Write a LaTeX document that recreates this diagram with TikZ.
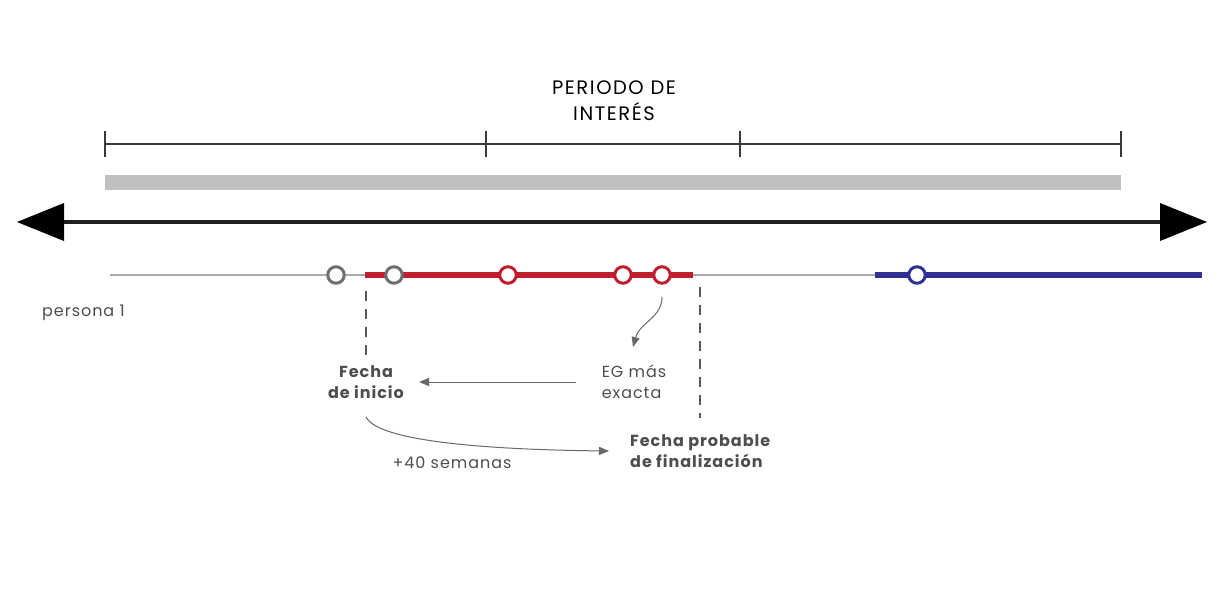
\documentclass[tikz,border=0pt]{standalone}
\usepackage{fontspec}
\setmainfont{Poppins}
\usetikzlibrary{arrows.meta}
\definecolor{txt}{HTML}{4D4D4F}
\definecolor{tick}{HTML}{3A3A3C}
\definecolor{barg}{HTML}{BEBFC1}
\definecolor{lineg}{HTML}{A7A9AC}
\definecolor{circg}{HTML}{6D6E71}
\definecolor{redl}{HTML}{BE1E2D}
\definecolor{bluel}{HTML}{2E3192}
\definecolor{dashg}{HTML}{58595B}
\tikzset{
  lbl/.style={text=txt, font=\fontsize{16}{21.5}\selectfont\addfontfeature{LetterSpace=6}, inner sep=0pt, align=center},
  blbl/.style={lbl, font=\fontsize{16}{21.5}\selectfont\bfseries\addfontfeature{LetterSpace=6}},
  dot/.style={circle, draw=#1, line width=3pt, fill=white, minimum size=16.5pt, inner sep=0pt},
  dashln/.style={dashg, line width=1.8pt, dash pattern=on 10pt off 8pt},
  conn/.style={txt!85, line width=1pt, -{Triangle[length=10pt,width=8pt]}},
}
\begin{document}
\begin{tikzpicture}[x=1pt,y=-1pt]
\useasboundingbox (0,0) rectangle (1227,591);
% title
\node[lbl, text=black, font=\fontsize{19.5}{26}\selectfont\addfontfeature{LetterSpace=8}] (title) at (614,101) {PERIODO DE\\INTERÉS};
% bracket
\coordinate (b0) at (105,144);
\coordinate (b1) at (486,144);
\coordinate (b2) at (740,144);
\coordinate (b3) at (1121,144);
\draw[tick, line width=1.6pt] (b0) -- (b3);
\foreach \c in {b0,b1,b2,b3} \draw[tick, line width=1.6pt] ([yshift=-13pt]\c) -- ([yshift=13pt]\c);
% grey bar
\fill[barg] (105,175.5) rectangle (1121,190.5);
% black double arrow
\coordinate (al) at (17,222);
\coordinate (ar) at (1207,222);
\draw[black!88, line width=4.5pt] (60,222) -- (1165,222);
\fill[black] (al) -- (64,203) -- (64,241) -- cycle;
\fill[black] (ar) -- (1160,203) -- (1160,241) -- cycle;
% person line
\draw[lineg, line width=2.5pt] (110,275) -- (365,275);
\draw[lineg, line width=2.5pt] (693,275) -- (875,275);
\draw[redl, line width=6.5pt] (365,275) -- (693,275);
\draw[bluel, line width=6.5pt] (875,275) -- (1202,275);
\node[dot=circg] (g1) at (336,275) {};
\node[dot=circg] (g2) at (394,275) {};
\node[dot=redl] (r1) at (508,275) {};
\node[dot=redl] (r2) at (623,275) {};
\node[dot=redl] (r3) at (662,275) {};
\node[dot=bluel] (b1dot) at (917,275) {};
\node[lbl, anchor=west] (p1) at (42,313) {persona 1};
% labels
\node[blbl] (inicio) at (366,382) {Fecha\\de inicio};
\node[lbl, align=left] (eg) at (634,382) {EG más\\exacta};
\node[blbl, align=left, anchor=west] (fin) at (630,451) {Fecha probable\\de finalización};
\node[lbl] (sem) at (452,463) {+40 semanas};
% dashed lines
\coordinate (d1a) at (366,291);
\coordinate (d1b) at (366,356);
\coordinate (d2a) at (700,287);
\coordinate (d2b) at (700,418);
\draw[dashln] (d1a) -- (d1b);
\draw[dashln] (d2a) -- (d2b);
% connectors
\draw[conn] ([xshift=-26pt]eg.west) -- ([xshift=15pt]inicio.east);
\draw[conn] ([yshift=-12pt]r3.south) .. controls (662,318) and (640,322) .. (633,347);
\draw[conn] (366,417) .. controls (380,445) and (520,450) .. ([xshift=-21pt]fin.west);
\end{tikzpicture}
\end{document}
